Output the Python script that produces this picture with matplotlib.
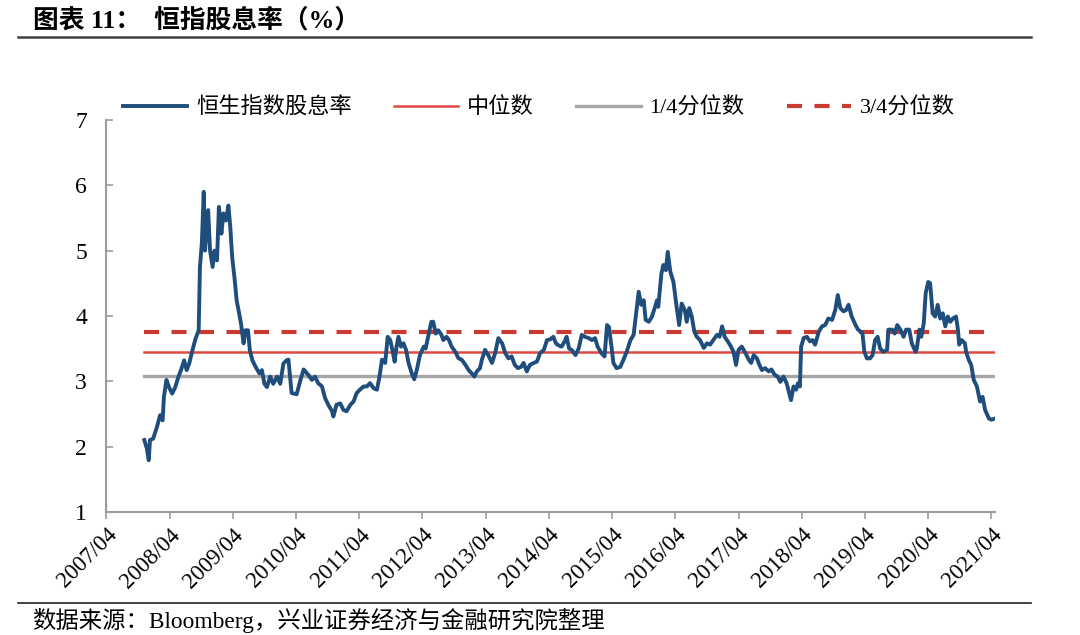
import numpy as np
import matplotlib
matplotlib.use("Agg")
import matplotlib.pyplot as plt

plt.rcParams['font.family'] = ['Liberation Serif', 'Noto Sans CJK SC', 'DejaVu Sans']
plt.rcParams['axes.unicode_minus'] = False

# 日期（小数年）与恒生指数股息率（%）
t_year = [
    2007.85, 2007.89, 2007.92, 2007.94, 2007.99, 2008.05, 2008.10, 2008.14, 2008.16, 2008.20,
    2008.24, 2008.29, 2008.34, 2008.39, 2008.43, 2008.48, 2008.52, 2008.56, 2008.61, 2008.66,
    2008.71, 2008.73, 2008.76, 2008.79, 2008.81, 2008.84, 2008.86, 2008.89, 2008.93, 2008.96,
    2009.00, 2009.03, 2009.07, 2009.10, 2009.14, 2009.18, 2009.21, 2009.24, 2009.28, 2009.31,
    2009.34, 2009.38, 2009.42, 2009.45, 2009.49, 2009.52, 2009.56, 2009.61, 2009.67, 2009.71,
    2009.75, 2009.79, 2009.84, 2009.89, 2009.95, 2010.00, 2010.05, 2010.10, 2010.13, 2010.18,
    2010.26, 2010.32, 2010.37, 2010.45, 2010.50, 2010.55, 2010.60, 2010.66, 2010.71, 2010.76,
    2010.82, 2010.84, 2010.89, 2010.95, 2011.00, 2011.05, 2011.11, 2011.16, 2011.21, 2011.26,
    2011.32, 2011.37, 2011.42, 2011.48, 2011.53, 2011.57, 2011.61, 2011.66, 2011.70, 2011.74,
    2011.78, 2011.81, 2011.84, 2011.87, 2011.91, 2011.95, 2011.99, 2012.03, 2012.08, 2012.12,
    2012.16, 2012.21, 2012.27, 2012.30, 2012.35, 2012.39, 2012.42, 2012.46, 2012.50, 2012.55,
    2012.58, 2012.63, 2012.67, 2012.71, 2012.77, 2012.82, 2012.87, 2012.93, 2012.98, 2013.03,
    2013.07, 2013.11, 2013.16, 2013.19, 2013.24, 2013.29, 2013.35, 2013.40, 2013.45, 2013.51,
    2013.56, 2013.61, 2013.66, 2013.71, 2013.76, 2013.81, 2013.85, 2013.90, 2013.95, 2014.01,
    2014.06, 2014.11, 2014.17, 2014.22, 2014.27, 2014.32, 2014.36, 2014.40, 2014.45, 2014.50,
    2014.53, 2014.57, 2014.61, 2014.67, 2014.72, 2014.77, 2014.82, 2014.88, 2014.93, 2014.98,
    2015.02, 2015.08, 2015.13, 2015.17, 2015.20, 2015.24, 2015.27, 2015.32, 2015.38, 2015.43,
    2015.48, 2015.54, 2015.59, 2015.63, 2015.67, 2015.71, 2015.75, 2015.78, 2015.83, 2015.88,
    2015.93, 2015.96, 2015.98, 2016.03, 2016.06, 2016.10, 2016.13, 2016.17, 2016.22, 2016.27,
    2016.31, 2016.35, 2016.40, 2016.43, 2016.47, 2016.51, 2016.55, 2016.59, 2016.64, 2016.70,
    2016.75, 2016.80, 2016.85, 2016.91, 2016.95, 2016.99, 2017.03, 2017.08, 2017.13, 2017.17,
    2017.21, 2017.25, 2017.30, 2017.36, 2017.41, 2017.45, 2017.49, 2017.54, 2017.58, 2017.62,
    2017.67, 2017.73, 2017.77, 2017.82, 2017.87, 2017.91, 2017.96, 2018.01, 2018.05, 2018.08,
    2018.12, 2018.16, 2018.19, 2018.22, 2018.24, 2018.28, 2018.33, 2018.38, 2018.42, 2018.46,
    2018.52, 2018.57, 2018.62, 2018.67, 2018.73, 2018.78, 2018.82, 2018.86, 2018.91, 2018.95,
    2018.99, 2019.04, 2019.10, 2019.14, 2019.18, 2019.21, 2019.24, 2019.28, 2019.33, 2019.37,
    2019.41, 2019.45, 2019.49, 2019.54, 2019.60, 2019.62, 2019.68, 2019.72, 2019.76, 2019.81,
    2019.86, 2019.90, 2019.95, 2019.99, 2020.05, 2020.07, 2020.11, 2020.14, 2020.18, 2020.21,
    2020.25, 2020.28, 2020.32, 2020.36, 2020.40, 2020.44, 2020.48, 2020.52, 2020.56, 2020.60,
    2020.64, 2020.69, 2020.72, 2020.74, 2020.78, 2020.83, 2020.85, 2020.89, 2020.93, 2020.97,
    2021.02, 2021.07, 2021.11, 2021.15, 2021.21, 2021.25, 2021.31,
]
dividend_yield = [
    2.10, 1.97, 1.79, 2.10, 2.12, 2.30, 2.48, 2.40, 2.76, 3.02,
    2.91, 2.81, 2.91, 3.07, 3.17, 3.32, 3.17, 3.27, 3.47, 3.65,
    3.78, 4.75, 5.11, 5.90, 5.00, 5.41, 5.62, 5.00, 4.75, 5.00,
    4.85, 5.67, 5.26, 5.57, 5.46, 5.69, 5.36, 4.90, 4.55, 4.24,
    4.09, 3.88, 3.58, 3.78, 3.78, 3.47, 3.32, 3.22, 3.12, 3.17,
    2.96, 2.91, 3.07, 2.96, 3.07, 2.96, 3.27, 3.32, 3.33, 2.82,
    2.80, 3.02, 3.18, 3.09, 3.02, 3.07, 2.97, 2.92, 2.74, 2.64,
    2.54, 2.46, 2.64, 2.66, 2.56, 2.54, 2.64, 2.69, 2.82, 2.87,
    2.92, 2.92, 2.97, 2.89, 2.87, 3.07, 3.33, 3.28, 3.68, 3.63,
    3.45, 3.30, 3.53, 3.68, 3.53, 3.58, 3.48, 3.28, 3.12, 3.03,
    3.17, 3.40, 3.53, 3.50, 3.73, 3.91, 3.91, 3.73, 3.78, 3.71,
    3.63, 3.68, 3.63, 3.53, 3.45, 3.35, 3.33, 3.25, 3.17, 3.12,
    3.07, 3.15, 3.20, 3.33, 3.48, 3.40, 3.28, 3.43, 3.66, 3.58,
    3.43, 3.35, 3.38, 3.25, 3.20, 3.22, 3.28, 3.15, 3.25, 3.28,
    3.30, 3.43, 3.48, 3.63, 3.64, 3.68, 3.58, 3.55, 3.53, 3.61,
    3.68, 3.50, 3.48, 3.40, 3.50, 3.71, 3.68, 3.66, 3.63, 3.66,
    3.53, 3.43, 3.38, 3.86, 3.83, 3.53, 3.28, 3.20, 3.22, 3.33,
    3.45, 3.63, 3.71, 4.04, 4.37, 4.17, 4.24, 3.94, 3.91, 3.99,
    4.14, 4.24, 4.14, 4.65, 4.78, 4.70, 4.98, 4.68, 4.52, 4.14,
    3.86, 4.19, 4.09, 3.91, 4.12, 3.99, 3.76, 3.68, 3.63, 3.51,
    3.58, 3.56, 3.63, 3.71, 3.68, 3.84, 3.68, 3.61, 3.53, 3.45,
    3.25, 3.48, 3.53, 3.43, 3.33, 3.28, 3.40, 3.35, 3.25, 3.17,
    3.20, 3.15, 3.18, 3.10, 3.07, 2.99, 3.07, 2.97, 2.82, 2.71,
    2.92, 2.87, 2.97, 2.92, 3.53, 3.66, 3.68, 3.61, 3.63, 3.56,
    3.76, 3.84, 3.86, 3.96, 3.94, 4.09, 4.32, 4.12, 4.07, 4.09,
    4.17, 3.99, 3.86, 3.79, 3.76, 3.73, 3.45, 3.35, 3.35, 3.40,
    3.63, 3.68, 3.50, 3.45, 3.48, 3.79, 3.79, 3.73, 3.86, 3.79,
    3.68, 3.79, 3.79, 3.58, 3.45, 3.50, 3.79, 3.68, 3.89, 4.35,
    4.52, 4.50, 4.04, 3.99, 4.17, 3.96, 4.04, 3.84, 3.99, 3.91,
    3.96, 3.99, 3.79, 3.56, 3.63, 3.58, 3.45, 3.33, 3.25, 3.02,
    2.92, 2.69, 2.76, 2.56, 2.43, 2.41, 2.43,
]

median_val = 3.45
q1_val = 3.08
q3_val = 3.75

tick_years = np.arange(2007, 2022)
tick_labels = [f"{y}/04" for y in tick_years]

c_blue = '#1f4e7d'
c_red = '#de4a43'
c_red_dash = '#c93a32'
c_gray = '#a6a6a6'
c_axis = '#9c9c9c'

fig = plt.figure(figsize=(10.8, 6.35), dpi=100)
ax = fig.add_axes([0.0985, 0.194, 0.823, 0.617])

x_end = t_year[-1]
ax.plot(t_year, dividend_yield, color=c_blue, lw=2.8, label='恒生指数股息率', zorder=4,
        solid_joinstyle='round')
ax.plot([t_year[0], x_end], [median_val, median_val], color=c_red, lw=1.8, label='中位数', zorder=3)
ax.plot([t_year[0], x_end], [q1_val, q1_val], color=c_gray, lw=2.4, label='1/4分位数', zorder=3)
ax.plot([t_year[0], x_end], [q3_val, q3_val], color=c_red_dash, lw=3.0, ls=(0, (3.6, 3.0)),
        label='3/4分位数', zorder=3)

ax.set_xlim(2007.25, x_end)
ax.set_ylim(1, 7)
ax.set_yticks(range(1, 8))
ax.set_xticks(tick_years + 0.25)
ax.set_xticklabels(tick_labels, rotation=45, ha='right', rotation_mode='anchor')

for s in ['top', 'right']:
    ax.spines[s].set_visible(False)
for s in ['left', 'bottom']:
    ax.spines[s].set_color(c_axis)
    ax.spines[s].set_linewidth(1.5)
ax.tick_params(axis='y', direction='in', length=5, width=1.2, color=c_axis, labelsize=17, pad=14)
ax.tick_params(axis='x', direction='out', length=5, width=1.2, color=c_axis, labelsize=16.5, pad=4)

fig.legend(loc='center', bbox_to_anchor=(0.499, 0.830), ncol=4, frameon=False,
           fontsize=16, handlelength=2.9, handletextpad=0.4, columnspacing=1.9)

fig.text(0.031, 0.969, '图表 11：  恒指股息率（%）', fontsize=18.5, fontweight='bold',
         ha='left', va='center')
fig.add_artist(plt.Line2D([0.017, 0.955], [0.941, 0.941], color='#404040', lw=1.8))
fig.add_artist(plt.Line2D([0.017, 0.955], [0.050, 0.050], color='#222222', lw=1.2))
fig.text(0.03, 0.023, '数据来源：Bloomberg，兴业证券经济与金融研究院整理', fontsize=16.8,
         ha='left', va='center')

fig.savefig('out.png', dpi=100)
